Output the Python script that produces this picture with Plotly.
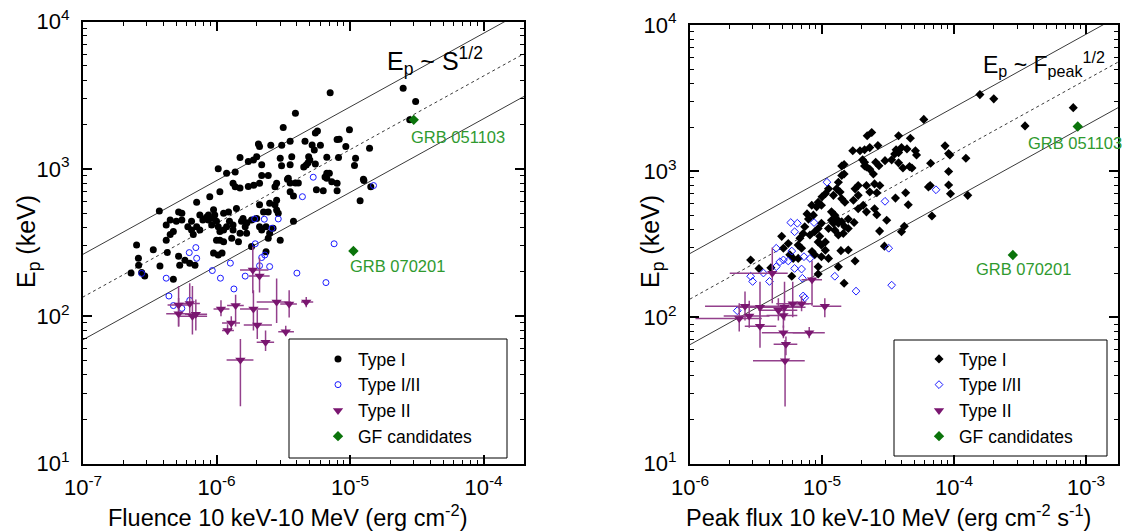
import numpy as np
import plotly.graph_objects as go

W, H = 1130, 531
FONT = "Arial, Liberation Sans, sans-serif"

# ---------------- data: left panel (fluence) ----------------
type1_fluence = [
    (7.1e-6, 3290), (2.5e-5, 3520), (3.1e-5, 2860), (2.8e-5, 2150), (3.9e-6, 2380),
    (3.16e-6, 1905), (9.9e-6, 1840), (5.7e-6, 1807), (5.5e-6, 1750), (3.56e-6, 1540),
    (3.08e-6, 1445), (2.06e-6, 1475), (2.1e-6, 1415), (2.55e-6, 1445), (4.6e-6, 1540),
    (5.2e-6, 1450), (6.0e-6, 1445), (5.4e-6, 1344), (8.3e-6, 1590), (8.0e-6, 1580),
    (9.3e-6, 1415), (1.4e-5, 1380), (1.1e-5, 1180), (1.08e-5, 1052), (6.7e-6, 1200),
    (8.2e-6, 1195), (1.5e-6, 1195), (1.73e-6, 1120), (1.89e-6, 1148), (2.18e-6, 1065),
    (2.0e-6, 1210), (3.0e-6, 1180), (3.07e-6, 1050), (3.56e-6, 1065), (3.66e-6, 1210),
    (4.9e-6, 1210), (4.5e-6, 1030), (4.7e-6, 1060), (4.85e-6, 1100), (5.0e-6, 1150),
    (5.5e-6, 1080), (1.03e-6, 1000), (1.19e-6, 934), (1.38e-6, 950), (2.18e-6, 900),
    (2.44e-6, 900), (3.45e-6, 863), (6.7e-6, 934), (7.0e-6, 934), (6.5e-6, 880),
    (1.26e-5, 850), (3.4e-6, 850), (3.9e-6, 800), (3.56e-6, 800), (4.1e-6, 800),
    (6.7e-6, 863), (7.3e-6, 818), (8.0e-6, 797), (1.27e-5, 832), (1.43e-5, 757),
    (1.19e-5, 608), (8.0e-6, 711), (6.3e-6, 711), (5.6e-6, 722), (3.56e-6, 700),
    (3.77e-6, 654), (2.82e-6, 797), (2.74e-6, 757), (2.1e-6, 797), (1.73e-6, 760),
    (1.9e-6, 775), (1.33e-6, 797), (1.38e-6, 757), (1.5e-6, 740), (1.06e-6, 700),
    (8.9e-7, 647), (7.1e-7, 593), (3.73e-7, 518), (5.2e-7, 510), (5.5e-7, 500),
    (7.5e-7, 486), (8.4e-7, 470), (8.7e-7, 450), (9.5e-7, 460), (1.0e-6, 440),
    (9.5e-7, 528), (1.13e-6, 500), (1.23e-6, 510), (1.25e-6, 440), (1.41e-6, 538),
    (1.58e-6, 460), (1.54e-6, 440), (1.69e-6, 430), (1.64e-6, 405), (1.83e-6, 450),
    (2.0e-6, 460), (2.25e-6, 510), (2.44e-6, 510), (2.74e-6, 570), (2.82e-6, 525),
    (2.9e-6, 500), (2.1e-6, 570), (2.1e-6, 405), (2.35e-6, 405), (2.65e-6, 395),
    (2.44e-6, 338), (3.77e-6, 440), (1.46e-6, 320), (1.13e-6, 385), (1.06e-6, 375),
    (1.0e-6, 328), (1.13e-6, 320), (6.5e-7, 385), (7.5e-7, 385), (6.1e-7, 405),
    (6.7e-7, 358), (4.75e-7, 375), (4.5e-7, 358), (4.2e-7, 328), (5.0e-7, 440),
    (5.5e-7, 450), (3.36e-7, 282), (2.52e-7, 304), (2.6e-7, 247), (2.61e-7, 222),
    (2.29e-7, 196), (2.9e-7, 187), (2.75e-7, 198), (3.77e-7, 219), (4.75e-7, 178),
    (4.28e-7, 270), (5.2e-7, 255), (5.3e-7, 222), (5.8e-7, 240), (6.3e-7, 229),
    (6.9e-7, 222), (9.5e-7, 268), (1.03e-6, 260), (1.1e-6, 268), (1.83e-6, 297),
    (2.35e-6, 274), (1.33e-6, 415), (2.5e-6, 585), (2.82e-6, 613),
    (8.7e-7, 486), (9.7e-7, 486), (7.9e-7, 450), (9.2e-7, 415), (1.03e-6, 405),
    (1.19e-6, 405), (1.33e-6, 385), (1.5e-6, 366), (1.68e-6, 366), (1.3e-6, 338),
    (1.06e-6, 328), (2.18e-6, 385), (2.5e-6, 366), (3.0e-6, 328), (4.2e-7, 415),
    (4.5e-7, 450), (6.5e-7, 440), (7.1e-7, 405),
]

type12_fluence = [
    (5.3e-6, 877), (1.5e-5, 770), (4.4e-6, 647), (1.93e-6, 457), (2.28e-6, 455),
    (2.9e-6, 457), (2.6e-6, 395), (1.95e-6, 310), (2.18e-6, 250), (2.3e-6, 260),
    (2.1e-6, 220), (2.5e-6, 217), (1.64e-6, 187), (1.27e-6, 229), (9.3e-7, 204),
    (1.07e-6, 181), (1.35e-6, 153), (4.2e-7, 181), (2.75e-7, 195), (4.4e-7, 137),
    (4.75e-7, 118), (5.5e-7, 113), (6.3e-7, 128), (4.0e-6, 196), (7.6e-6, 310),
    (6.6e-6, 169), (7.0e-7, 292), (6.25e-7, 270), (7.1e-7, 247),
]

# Type II: fluence, Ep and their error ranges
type2_fluence = [1.87e-6, 2.1e-6, 5.2e-7, 6.3e-7, 1.08e-6, 1.39e-6, 1.89e-6, 2.82e-6, 3.5e-6, 4.7e-6,
                 5.2e-7, 6.6e-7, 7.0e-7, 1.29e-6, 1.21e-6, 2.02e-6, 3.3e-6, 2.33e-6, 1.51e-6]
type2_fluence_lo = [1.5e-6, 1.75e-6, 4.3e-7, 5.3e-7, 9.5e-7, 1.2e-6, 1.5e-6, 2.0e-6, 3.0e-6, 4.3e-6,
                    4.2e-7, 5.3e-7, 5.8e-7, 1.1e-6, 1.1e-6, 1.6e-6, 2.9e-6, 2.0e-6, 1.19e-6]
type2_fluence_hi = [2.45e-6, 2.5e-6, 6.5e-7, 7.5e-7, 1.25e-6, 1.6e-6, 2.45e-6, 3.6e-6, 4.0e-6, 5.3e-6,
                    6.5e-7, 8.5e-7, 8.5e-7, 1.5e-6, 1.35e-6, 2.6e-6, 3.8e-6, 2.7e-6, 1.89e-6]
type2_fluence_ep = [206, 187, 119, 122, 112, 118, 112, 125, 121, 125,
                    104, 100, 103, 90, 80, 87, 78.5, 66.5, 50.5]
type2_fluence_ep_lo = [143, 145, 85, 99, 100, 85, 80, 90, 98, 115,
                       85, 75, 80, 80, 75, 70, 73, 58, 24.5]
type2_fluence_ep_hi = [297, 250, 160, 167, 128, 140, 150, 180, 150, 135,
                       133, 160, 130, 100, 88, 110, 86, 80, 70]

gf_fluence = [3.0e-5, 1.06e-5]
gf_fluence_ep = [2150, 277]
gf_names = ["GRB 051103", "GRB 070201"]

# ---------------- data: right panel (peak flux) ----------------
type1_peak = [
    (1.57e-4, 3340), (2.0e-4, 3125), (8.0e-4, 2720), (3.45e-4, 2040), (5.9e-5, 2260),
    (3.8e-5, 1745), (4.67e-5, 1680), (2.38e-5, 1837), (2.2e-5, 1745), (1.71e-5, 1380),
    (1.94e-5, 1380), (2.1e-5, 1400), (2.3e-5, 1450), (2.65e-5, 1500), (3.64e-5, 1400),
    (3.8e-5, 1340), (3.55e-5, 1310), (4.0e-5, 1450), (4.4e-5, 1420), (5.1e-5, 1380),
    (5.2e-5, 1290), (8.55e-5, 1490), (9.1e-5, 1320), (9.3e-5, 1290), (1.23e-4, 1225),
    (6.65e-5, 1133), (9.1e-5, 995), (4.6e-5, 1075), (3.8e-5, 1140), (4.1e-5, 1050),
    (4.8e-5, 1050), (3.0e-5, 1180), (3.37e-5, 1195), (2.55e-5, 1150), (2.7e-5, 1090),
    (2.03e-5, 1195), (2.1e-5, 1150), (2.17e-5, 1070), (2.1e-5, 1085), (2.3e-5, 1030),
    (1.41e-5, 1085), (1.47e-5, 1110), (2.45e-5, 957), (6.6e-5, 798), (6.4e-5, 780),
    (9.1e-5, 805), (9.4e-5, 700), (1.27e-4, 683), (6.8e-5, 494), (4.3e-5, 711),
    (3.6e-5, 654), (4.5e-5, 589), (3.09e-5, 462), (2.73e-5, 389), (4.0e-5, 385),
    (4.2e-5, 420), (2.97e-5, 307), (2.5e-5, 553), (2.6e-5, 504), (1.88e-5, 797),
    (2.17e-5, 797), (2.5e-5, 818), (2.74e-5, 797), (1.78e-5, 757), (2.3e-5, 720),
    (2.6e-5, 711), (1.88e-5, 683), (1.73e-5, 632), (2.05e-5, 585), (1.88e-5, 553),
    (2.17e-5, 527), (1.41e-5, 934), (1.47e-5, 957), (1.33e-5, 840), (1.29e-5, 757),
    (1.37e-5, 720), (1.22e-5, 683), (1.41e-5, 647), (1.49e-5, 613), (1.12e-5, 757),
    (1.06e-5, 700), (1.0e-5, 667), (9.35e-6, 613), (9.1e-6, 570), (9.9e-6, 585),
    (8.36e-6, 585), (7.7e-6, 510), (7.9e-6, 470), (8.6e-6, 500), (1.18e-5, 527),
    (1.25e-5, 500), (1.29e-5, 470), (1.22e-5, 440), (1.33e-5, 440), (1.41e-5, 450),
    (1.49e-5, 417), (1.58e-5, 405), (1.45e-5, 375), (1.33e-5, 366), (1.25e-5, 395),
    (1.18e-5, 462), (1.12e-5, 405), (1.75e-5, 445), (1.58e-5, 470), (9.9e-6, 440),
    (9.35e-6, 405), (8.8e-6, 385), (9.6e-6, 358), (1.06e-5, 328), (9.35e-6, 328),
    (9.9e-6, 312), (7.4e-6, 417), (7.2e-6, 375), (8.1e-6, 366), (6.8e-6, 348),
    (6.6e-6, 312), (7.0e-6, 297), (8.4e-6, 282), (9.9e-6, 260), (1.06e-5, 288),
    (8.8e-6, 268), (5.7e-6, 268), (6.05e-6, 253), (6.6e-6, 253), (5.55e-6, 320),
    (5.1e-6, 297), (4.95e-6, 358), (2.88e-6, 247), (3.33e-6, 216), (4.1e-6, 218),
    (5.9e-6, 191), (9.35e-6, 222), (9.35e-6, 198), (1.33e-5, 222), (1.47e-5, 171),
    (1.78e-5, 243), (1.58e-5, 289), (1.39e-5, 286), (1.12e-5, 253),
]

type12_peak = [
    (1.09e-5, 840), (7.3e-5, 746), (3.0e-5, 622), (3.2e-5, 297), (5.8e-6, 445),
    (6.5e-6, 440), (6.2e-6, 385), (8.7e-6, 445), (4.5e-6, 297), (5.9e-6, 284),
    (5.55e-6, 243), (4.8e-6, 240), (5.1e-6, 247), (4.5e-6, 222), (7.3e-6, 260),
    (8.1e-6, 253), (6.2e-6, 216), (7.0e-6, 214), (3.6e-6, 201), (2.88e-6, 191),
    (2.98e-6, 176), (4.0e-6, 176), (7.1e-6, 185), (1.25e-5, 191), (1.81e-5, 151),
    (3.37e-5, 166), (7.4e-6, 136), (7.2e-6, 140), (2.28e-6, 111),
]

type2_peak = [2.61e-6, 2.36e-6, 2.81e-6, 3.39e-6, 3.39e-6, 4.67e-6, 5.2e-6, 5.1e-6, 5.1e-6,
              5.33e-6, 5.25e-6, 6.0e-6, 7.0e-6, 8.0e-6, 1.05e-5, 4.2e-6, 8.4e-6]
type2_peak_lo = [1.3e-6, 1.1e-6, 1.8e-6, 2.3e-6, 2.6e-6, 3.3e-6, 3.5e-6, 3.8e-6, 3.5e-6,
                 4.3e-6, 3.0e-6, 4.5e-6, 5.5e-6, 6.0e-6, 8.5e-6, 2.0e-6, 7.0e-6]
type2_peak_hi = [6.8e-6, 3.5e-6, 4.0e-6, 5.0e-6, 4.5e-6, 6.5e-6, 7.5e-6, 6.5e-6, 7.5e-6,
                 6.5e-6, 7.4e-6, 8.0e-6, 8.5e-6, 1.05e-5, 1.4e-5, 5.5e-6, 1.0e-5]
type2_peak_ep = [119, 98, 102, 117, 87, 112, 117, 103, 78.5, 65.5, 50.5, 124, 124, 78.5, 119, 200, 181]
type2_peak_ep_lo = [95, 80, 85, 90, 62, 95, 95, 85, 72, 55, 24.5, 100, 110, 72, 100, 125, 120]
type2_peak_ep_hi = [150, 125, 130, 175, 110, 135, 175, 125, 88, 74, 70, 175, 140, 86, 135, 300, 245]

gf_peak = [8.65e-4, 2.79e-4]
gf_peak_ep = [2020, 267]

# Ep ~ S^1/2 and Ep ~ Fpeak^1/2 guide lines: index, pivot (log x, log Ep) and band factor
LINE_INDEX = 0.5
fluence_pivot = (-5.35, 2.955)
fluence_band = 1.95
peak_pivot = (-4.38, 2.935)
peak_band = 2.05

# axis ranges (log10)
fluence_range = [-7, -3.697]
peak_range = [-6, -2.758]
ep_range = [1, 4]

# ---------------- styling ----------------
BLACK = "#000000"
BLUE = "#1a1aff"
PURPLE = "#7a1670"
PURPLE_ERR = "#93408c"
GREEN_MK = "#0b740b"
GREEN_TX = "#2f9a2f"
LINE_CLR = "#3a3a3a"


def px_x(p):
    return p / W


def px_y(p):
    return 1 - p / H


def unzip(pts):
    return [p[0] for p in pts], [p[1] for p in pts]


def guide_lines(pivot, band, xr):
    xs = np.logspace(xr[0] - 0.2, xr[1] + 0.2, 2)
    mid = 10 ** pivot[1] * (xs / 10 ** pivot[0]) ** LINE_INDEX
    return xs, mid * band, mid, mid / band


fig = go.Figure()


def add_panel(xa, ya, legend, t1, t12, t2, t2lo, t2hi, t2ep, t2eplo, t2ephi,
              gfx, gfy, pivot, band, xr, t1_symbol, t12_symbol, t1_size):
    xs, up, mid, lo = guide_lines(pivot, band, xr)
    for ys, dash in ((up, "solid"), (mid, "3px,3px"), (lo, "solid")):
        fig.add_trace(go.Scatter(x=xs, y=ys, mode="lines", xaxis=xa, yaxis=ya,
                                 line=dict(color=LINE_CLR, width=1, dash=dash),
                                 showlegend=False, hoverinfo="skip"))
    x1, y1 = unzip(t1)
    fig.add_trace(go.Scatter(x=x1, y=y1, mode="markers", name="Type I", xaxis=xa, yaxis=ya,
                             legend=legend,
                             marker=dict(symbol=t1_symbol, size=t1_size, color=BLACK,
                                         line=dict(width=0))))
    x12, y12 = unzip(t12)
    fig.add_trace(go.Scatter(x=x12, y=y12, mode="markers", name="Type I/II", xaxis=xa, yaxis=ya,
                             legend=legend,
                             marker=dict(symbol=t12_symbol, size=6, color=BLUE,
                                         line=dict(width=1, color=BLUE))))
    fig.add_trace(go.Scatter(
        x=t2, y=t2ep, mode="markers", name="Type II", xaxis=xa, yaxis=ya, legend=legend,
        marker=dict(symbol="triangle-down", size=9, color=PURPLE, line=dict(width=0)),
        error_x=dict(type="data", symmetric=False,
                     array=[h - v for h, v in zip(t2hi, t2)],
                     arrayminus=[v - l for v, l in zip(t2, t2lo)],
                     color=PURPLE_ERR, thickness=1.5, width=0),
        error_y=dict(type="data", symmetric=False,
                     array=[h - v for h, v in zip(t2ephi, t2ep)],
                     arrayminus=[v - l for v, l in zip(t2ep, t2eplo)],
                     color=PURPLE_ERR, thickness=1.5, width=0),
    ))
    fig.add_trace(go.Scatter(x=gfx, y=gfy, mode="markers", name="GF candidates",
                             xaxis=xa, yaxis=ya, legend=legend,
                             marker=dict(symbol="diamond", size=8, color=GREEN_MK,
                                         line=dict(width=0))))


add_panel("x", "y", "legend", type1_fluence, type12_fluence,
          type2_fluence, type2_fluence_lo, type2_fluence_hi,
          type2_fluence_ep, type2_fluence_ep_lo, type2_fluence_ep_hi,
          gf_fluence, gf_fluence_ep, fluence_pivot, fluence_band, fluence_range,
          "circle", "circle-open", 7)
add_panel("x2", "y2", "legend2", type1_peak, type12_peak,
          type2_peak, type2_peak_lo, type2_peak_hi,
          type2_peak_ep, type2_peak_ep_lo, type2_peak_ep_hi,
          gf_peak, gf_peak_ep, peak_pivot, peak_band, peak_range,
          "diamond", "diamond-open", 7)


def decade_ticks(lo, hi):
    vals = [10.0 ** k for k in range(lo, hi + 1)]
    text = [f"10<sup>{k}</sup>" for k in range(lo, hi + 1)]
    minor = [m * 10.0 ** k for k in range(lo, hi + 1) for m in range(2, 10)]
    return vals, text, minor


def log_axis(domain, anchor, rng, lo, hi, standoff):
    vals, text, minor = decade_ticks(lo, hi)
    return dict(
        domain=domain, anchor=anchor, type="log", range=rng, automargin=False,
        showgrid=False, zeroline=False, showline=True, linecolor=BLACK, linewidth=2,
        mirror="allticks", ticks="inside", ticklen=9, tickwidth=1.5, tickcolor=BLACK,
        tickmode="array", tickvals=vals, ticktext=text,
        tickfont=dict(family=FONT, size=22, color=BLACK),
        ticklabelstandoff=standoff,
        minor=dict(ticks="inside", ticklen=4, tickwidth=1, tickcolor=BLACK,
                   tickmode="array", tickvals=minor, showgrid=False),
    )


yd_left = [px_y(463.5), px_y(21.5)]
yd_right = [px_y(463.5), px_y(25)]

fig.update_layout(
    width=W, height=H, margin=dict(l=0, r=0, t=0, b=0, autoexpand=False),
    paper_bgcolor="white", plot_bgcolor="white",
    font=dict(family=FONT, color=BLACK),
    xaxis=log_axis([px_x(83), px_x(524)], "y", fluence_range, -7, -4, 3),
    yaxis=log_axis(yd_left, "x", ep_range, 1, 4, 7),
    xaxis2=log_axis([px_x(690), px_x(1118)], "y2", peak_range, -6, -3, 3),
    yaxis2=log_axis(yd_right, "x2", ep_range, 1, 4, 7),
    legend=dict(x=px_x(318), y=px_y(341), xanchor="left", yanchor="top",
                bgcolor="rgba(0,0,0,0)", borderwidth=0,
                font=dict(family=FONT, size=17.5, color=BLACK), tracegroupgap=0),
    legend2=dict(x=px_x(919), y=px_y(341), xanchor="left", yanchor="top",
                 bgcolor="rgba(0,0,0,0)", borderwidth=0,
                 font=dict(family=FONT, size=17.5, color=BLACK), tracegroupgap=0),
    showlegend=True,
)

# legend frames
for x0, x1, y0, y1 in ((289, 507, 339, 458), (894, 1107, 340, 456)):
    fig.add_shape(type="rect", xref="paper", yref="paper",
                  x0=px_x(x0), x1=px_x(x1), y0=px_y(y1), y1=px_y(y0),
                  line=dict(color=BLACK, width=1), fillcolor="rgba(0,0,0,0)")

ann = []
# relation labels
ann.append(dict(x=px_x(385), y=px_y(61), xanchor="left", yanchor="middle",
                text="E<sub>p</sub> ~ S<sup>1/2</sup>", font=dict(size=25, color=BLACK)))
ann.append(dict(x=px_x(981), y=px_y(64), xanchor="left", yanchor="middle",
                text="E<sub>p</sub> ~ F<sub>peak</sub><sup>1/2</sup>", font=dict(size=23, color=BLACK)))
# GF candidate names
for x, y, t in ((458, 137, gf_names[0]), (397, 266, gf_names[1]),
                (1075, 143, gf_names[0]), (1023, 269, gf_names[1])):
    ann.append(dict(x=px_x(x), y=px_y(y), xanchor="center", yanchor="middle",
                    text=t, font=dict(size=16.5, color=GREEN_TX)))
# axis titles
ann.append(dict(x=px_x(287), y=px_y(516), xanchor="center", yanchor="middle",
                text="Fluence 10 keV-10 MeV (erg cm<sup>-2</sup>)", font=dict(size=23.5, color=BLACK)))
ann.append(dict(x=px_x(888), y=px_y(516), xanchor="center", yanchor="middle",
                text="Peak flux 10 keV-10 MeV (erg cm<sup>-2</sup> s<sup>-1</sup>)",
                font=dict(size=23.5, color=BLACK)))
for x in (28, 652):
    ann.append(dict(x=px_x(x), y=px_y(242), xanchor="center", yanchor="middle", textangle=-90,
                    text="E<sub>p</sub> (keV)", font=dict(size=25, color=BLACK)))
for a in ann:
    a.update(xref="paper", yref="paper", showarrow=False)
    a["font"]["family"] = FONT
fig.update_layout(annotations=ann)

fig.write_html("out.html")
